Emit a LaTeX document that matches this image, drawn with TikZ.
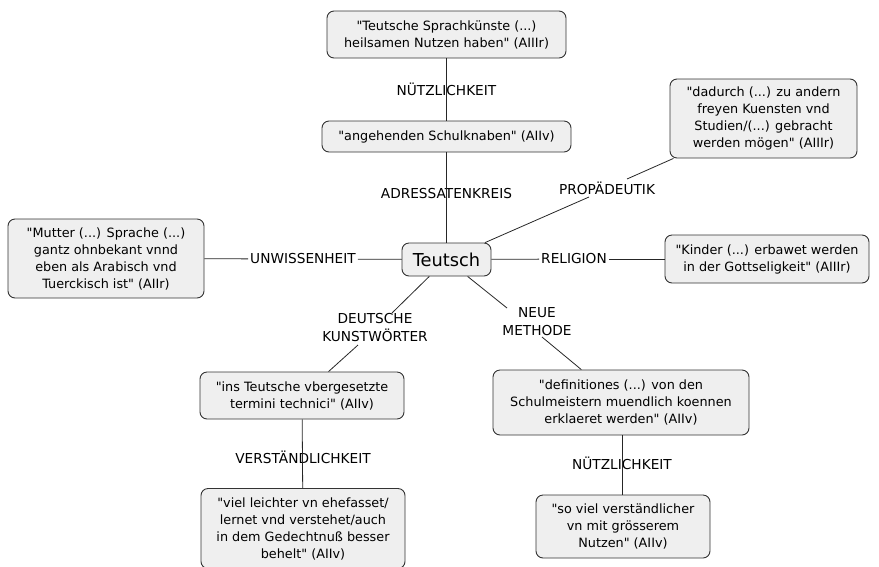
\documentclass[tikz,border=0pt]{standalone}
\usepackage{fontspec}
\setmainfont{DejaVu Sans}[Ligatures=TeXOff]
\definecolor{boxfill}{HTML}{EFEFEF}
\definecolor{boxline}{HTML}{333333}
\tikzset{
  concept/.style={draw=boxline, fill=boxfill, rounded corners=7pt, line width=0.9pt,
    align=center, inner sep=0pt, font=\fontsize{12.8}{17}\selectfont},
  linkp/.style={inner sep=2pt, align=center, font=\fontsize{13.7}{18}\selectfont},
  conn/.style={draw=black!85, line width=0.8pt}
}
\begin{document}
\begin{tikzpicture}[x=1pt,y=-1pt]
\useasboundingbox (0,0) rectangle (879,566);
\begin{scope}
\clip (0,0) rectangle (879,566);
% concepts
\node[concept, minimum width=239pt, minimum height=47pt] (top) at (446.5,34.5)
  {"Teutsche Sprachkünste (...)\\heilsamen Nutzen haben" (AIIIr)};
\node[concept, minimum width=249pt, minimum height=31pt] (ang) at (446.5,136.5)
  {"angehenden Schulknaben" (AIIv)};
\node[concept, minimum width=187pt, minimum height=79pt] (dad) at (763.5,118.5)
  {"dadurch (...) zu andern\\freyen Kuensten vnd\\Studien/(...) gebracht\\werden mögen" (AIIIr)};
\node[concept, minimum width=196pt, minimum height=79pt] (mut) at (106,258.5)
  {"Mutter (...) Sprache (...)\\gantz ohnbekant vnnd\\eben als Arabisch vnd\\Tuerckisch ist" (AIIr)};
\node[concept, minimum width=89pt, minimum height=33pt, font=\fontsize{17.8}{20}\selectfont] (teu) at (446.5,259.5)
  {Teutsch};
\node[concept, minimum width=204pt, minimum height=48pt] (kin) at (767,259)
  {"Kinder (...) erbawet werden\\in der Gottseligkeit" (AIIIr)};
\node[concept, minimum width=204pt, minimum height=47pt] (ins) at (302,395.5)
  {"ins Teutsche vbergesetzte\\termini technici" (AIIv)};
\node[concept, minimum width=256pt, minimum height=65pt] (def) at (621,402.5)
  {"definitiones (...) von den\\Schulmeistern muendlich koennen\\erklaeret werden" (AIIv)};
\node[concept, minimum width=204pt, minimum height=80pt] (vie) at (303,528.5)
  {"viel leichter vn ehefasset/\\lernet vnd verstehet/auch\\in dem Gedechtnuß besser\\behelt" (AIIv)};
\node[concept, minimum width=174pt, minimum height=63pt] (sov) at (623,526.5)
  {"so viel verständlicher\\vn mit grösserem\\Nutzen" (AIIv)};
% linking phrases
\node[linkp] (l1) at (446.5,89) {NÜTZLICHKEIT};
\node[linkp] (l2) at (446.5,194) {ADRESSATENKREIS};
\node[linkp] (l3) at (607,188) {PROPÄDEUTIK};
\node[linkp] (l4) at (303,259) {UNWISSENHEIT};
\node[linkp] (l5) at (574,259) {RELIGION};
\node[linkp] (l6) at (375,327.5) {DEUTSCHE\\KUNSTWÖRTER};
\node[linkp] (l7) at (537,321.5) {NEUE\\METHODE};
\node[linkp] (l8) at (303,457) {VERSTÄNDLICHKEIT};
\node[linkp] (l9) at (622,463) {NÜTZLICHKEIT};
% helper coordinates at the edges of diagonal linking phrases
\coordinate (p3a) at (627,179);
\coordinate (p3b) at (589,197);
\coordinate (p6a) at (392,313);
\coordinate (p6b) at (358,345);
\coordinate (p7a) at (507,308);
\coordinate (p7b) at (542,337);
% connectors
\draw[conn] (top) -- (ang);
\draw[conn] (ang) -- (teu);
\draw[conn] (p3a) -- (dad);
\draw[conn] (p3b) -- (teu);
\draw[conn] (mut) -- (l4);
\draw[conn] (l4) -- (teu);
\draw[conn] (teu) -- (l5);
\draw[conn] (l5) -- (kin);
\draw[conn] (p6a) -- (teu);
\draw[conn] (p6b) -- (ins);
\draw[conn] (p7a) -- (teu);
\draw[conn] (p7b) -- (def);
\draw[conn] (ins) -- (vie);
\draw[conn] (def.south -| l9) -- (sov.north -| l9);
\end{scope}
\end{tikzpicture}
\end{document}
